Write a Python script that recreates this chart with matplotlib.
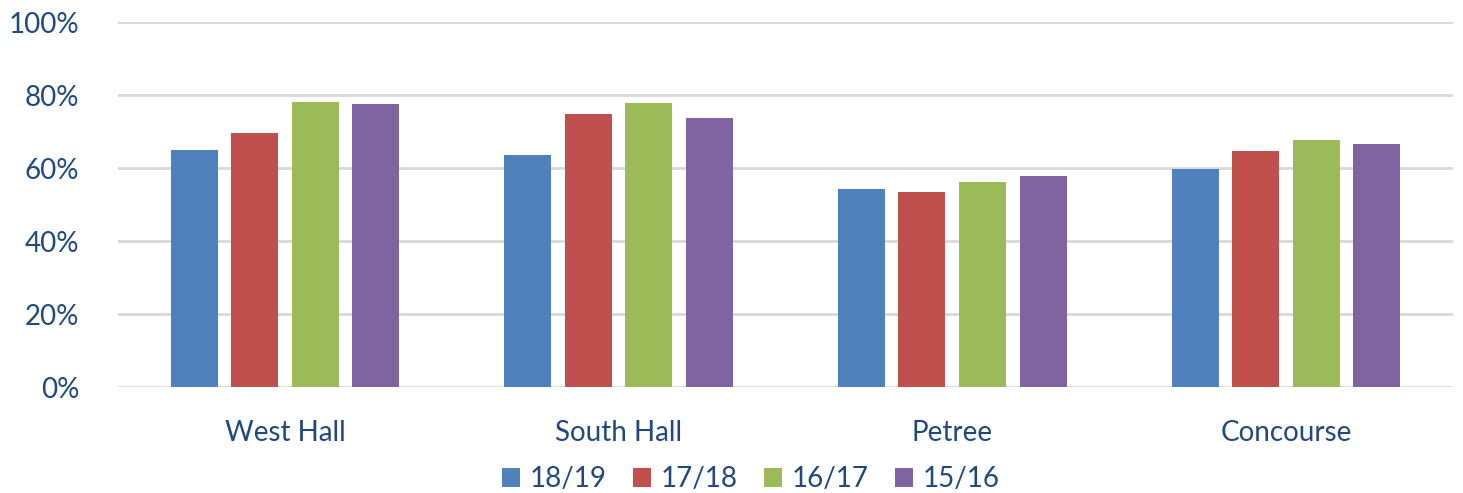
import numpy as np
import matplotlib.pyplot as plt
from matplotlib.ticker import PercentFormatter

# Data
halls = ['West Hall', 'South Hall', 'Petree', 'Concourse']
years = ['18/19', '17/18', '16/17', '15/16']
occ_1819 = [65.0, 63.6, 54.2, 59.7]
occ_1718 = [69.6, 74.8, 53.4, 64.7]
occ_1617 = [78.1, 77.8, 56.2, 67.7]
occ_1516 = [77.7, 73.7, 57.8, 66.6]

colors = ['#4F81BD', '#C0504D', '#9BBB59', '#8064A2']
text_col = '#1F497D'

plt.rcParams['font.family'] = ['Lato', 'DejaVu Sans']

fig = plt.figure(figsize=(14.63, 4.93), dpi=100)
ax = fig.add_axes([0.0807, 0.215, 0.9123, 0.74])

x = np.arange(len(halls))
width = 0.141
step = 0.1815
series = [occ_1819, occ_1718, occ_1617, occ_1516]
for i, (vals, lab, col) in enumerate(zip(series, years, colors)):
    ax.bar(x + (i - 1.5) * step, vals, width, color=col, label=lab, zorder=3)

ax.set_xlim(-0.5, len(halls) - 0.5)
ax.set_ylim(0, 100)
ax.set_yticks(np.arange(0, 101, 20))
ax.yaxis.set_major_formatter(PercentFormatter(decimals=0))
ax.set_xticks(x)
ax.set_xticklabels(halls)
ax.grid(axis='y', color='#D9D9D9', linewidth=2, zorder=0)
for s in ax.spines.values():
    s.set_visible(False)
ax.tick_params(axis='both', length=0, labelsize=20, colors=text_col)
ax.tick_params(axis='y', pad=28)
ax.tick_params(axis='x', pad=24)

ax.legend(loc='center', bbox_to_anchor=(0.474, -0.253), ncol=4, frameon=False,
          fontsize=20, labelcolor=text_col, handlelength=0.65, handleheight=0.65,
          handletextpad=0.35, columnspacing=0.95)

fig.savefig('out.png', dpi=100)
